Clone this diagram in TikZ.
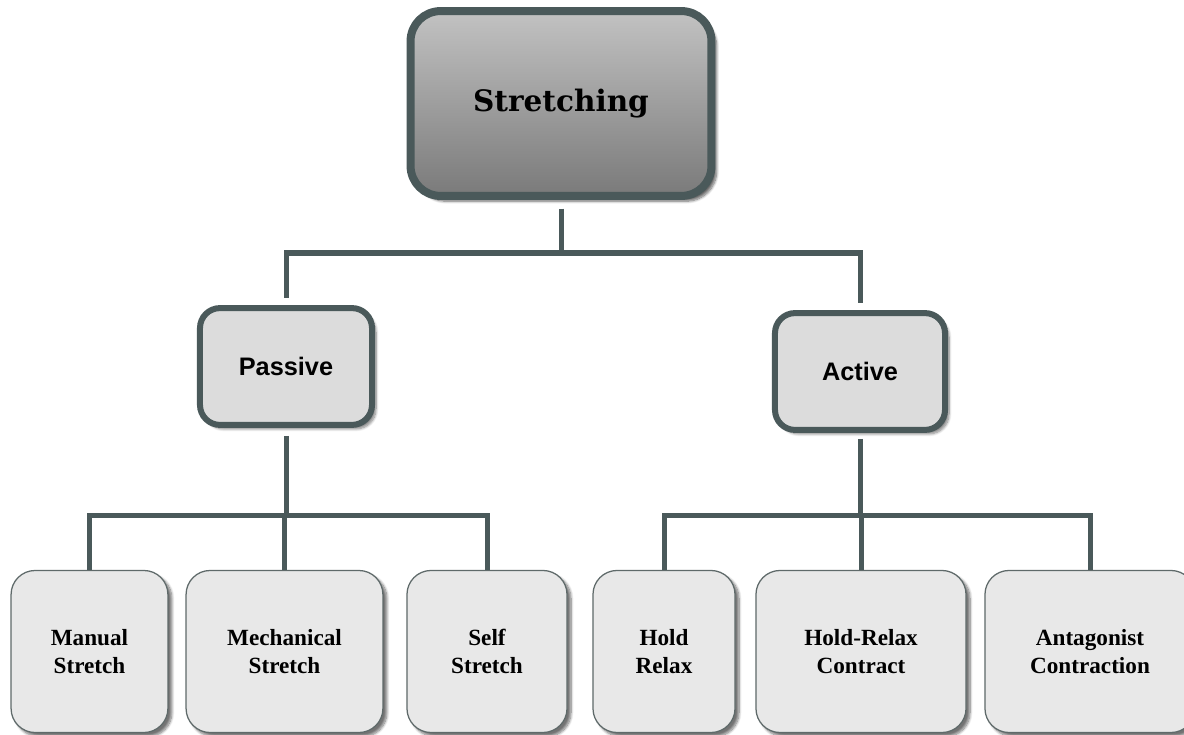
\documentclass[tikz,border=0pt]{standalone}
\usepackage{fontspec}
\setmainfont{Liberation Serif}
\newfontfamily\rootfont{DejaVu Serif}
\newfontfamily\branchfont{Liberation Sans}
\usepackage{xcolor}
\usepackage{tikz}
\usetikzlibrary{
  positioning,
  calc,
  shadows.blur
}
\definecolor{edgegray}{RGB}{74,89,90}
\definecolor{rootlight}{RGB}{194,194,194}
\definecolor{rootdark}{RGB}{122,122,122}
\definecolor{branchfill}{RGB}{220,220,220}
\definecolor{leaffill}{RGB}{232,232,232}
\definecolor{leafedge}{RGB}{95,106,106}

\begin{document}
\begin{tikzpicture}[
      x=0.025cm, y=-0.025cm,
      rootnode/.style={rectangle, rounded corners=0.75cm, draw=edgegray, line width=0.2cm,
        top color=rootlight, bottom color=rootdark, minimum width=7.52cm, minimum height=4.62cm,
        font=\rootfont\bfseries\fontsize{21}{25}\selectfont,
        blur shadow={shadow xshift=0.13cm, shadow yshift=-0.13cm, shadow blur steps=8, shadow opacity=60}},
      branchnode/.style={rectangle, rounded corners=0.5cm, draw=edgegray, line width=0.15cm,
        fill=branchfill, minimum height=2.92cm, align=center,
        font=\branchfont\bfseries\fontsize{18}{22}\selectfont,
        blur shadow={shadow xshift=0.1cm, shadow yshift=-0.1cm, shadow blur steps=8, shadow opacity=50}},
      leafnode/.style={rectangle, rounded corners=0.6cm, draw=leafedge, line width=0.9pt,
        fill=leaffill, minimum height=4.05cm, align=center,
        font=\bfseries\fontsize{16.5}{20}\selectfont,
        blur shadow={shadow xshift=0.1cm, shadow yshift=-0.1cm, shadow blur steps=8, shadow opacity=55}},
      link/.style={draw=edgegray, line width=0.125cm}
    ]
      \useasboundingbox (0,0) rectangle (1184,735);

      % Nodes
      \node[rootnode] (root) at (561,103.5) {\raisebox{-2pt}{Stretching}};
      \node[branchnode, minimum width=4.3cm] (passive) at (286,366.5) {Passive};
      \node[branchnode, minimum width=4.25cm] (active) at (860,371.5) {Active};

      \node[leafnode, minimum width=3.92cm] (manual) at (89.5,651.5) {Manual\\Stretch};
      \node[leafnode, minimum width=4.92cm] (mech) at (284.5,651.5) {Mechanical\\Stretch};
      \node[leafnode, minimum width=4cm] (self) at (487,651.5) {Self\\Stretch};
      \node[leafnode, minimum width=3.55cm] (hold) at (664,651.5) {Hold\\Relax};
      \node[leafnode, minimum width=5.25cm] (hrc) at (861,651.5) {Hold-Relax\\Contract};
      \node[leafnode, minimum width=5.25cm] (antag) at (1090,651.5) {Antagonist\\Contraction};

      % Splits
      \coordinate (rootsplit) at (561,253);
      \coordinate (passivesplit) at (286,515);
      \coordinate (activesplit) at (860,515);

      % Connectors
      \draw[link, shorten <=0.22cm] (root.south) -- (rootsplit);
      \draw[link, shorten >=0.18cm] (rootsplit) -| (passive);
      \draw[link, shorten >=0.18cm] (rootsplit) -| (active);

      \draw[link, shorten <=0.2cm] (passive.south) -- (passivesplit);
      \draw[link] (passivesplit) -| (manual);
      \draw[link] (passivesplit) -| (mech);
      \draw[link] (passivesplit) -| (self);

      \draw[link, shorten <=0.15cm] (active.south) -- (activesplit);
      \draw[link] (activesplit) -| (hold);
      \draw[link] (activesplit) -| (hrc);
      \draw[link] (activesplit) -| (antag);
    \end{tikzpicture}
\end{document}
